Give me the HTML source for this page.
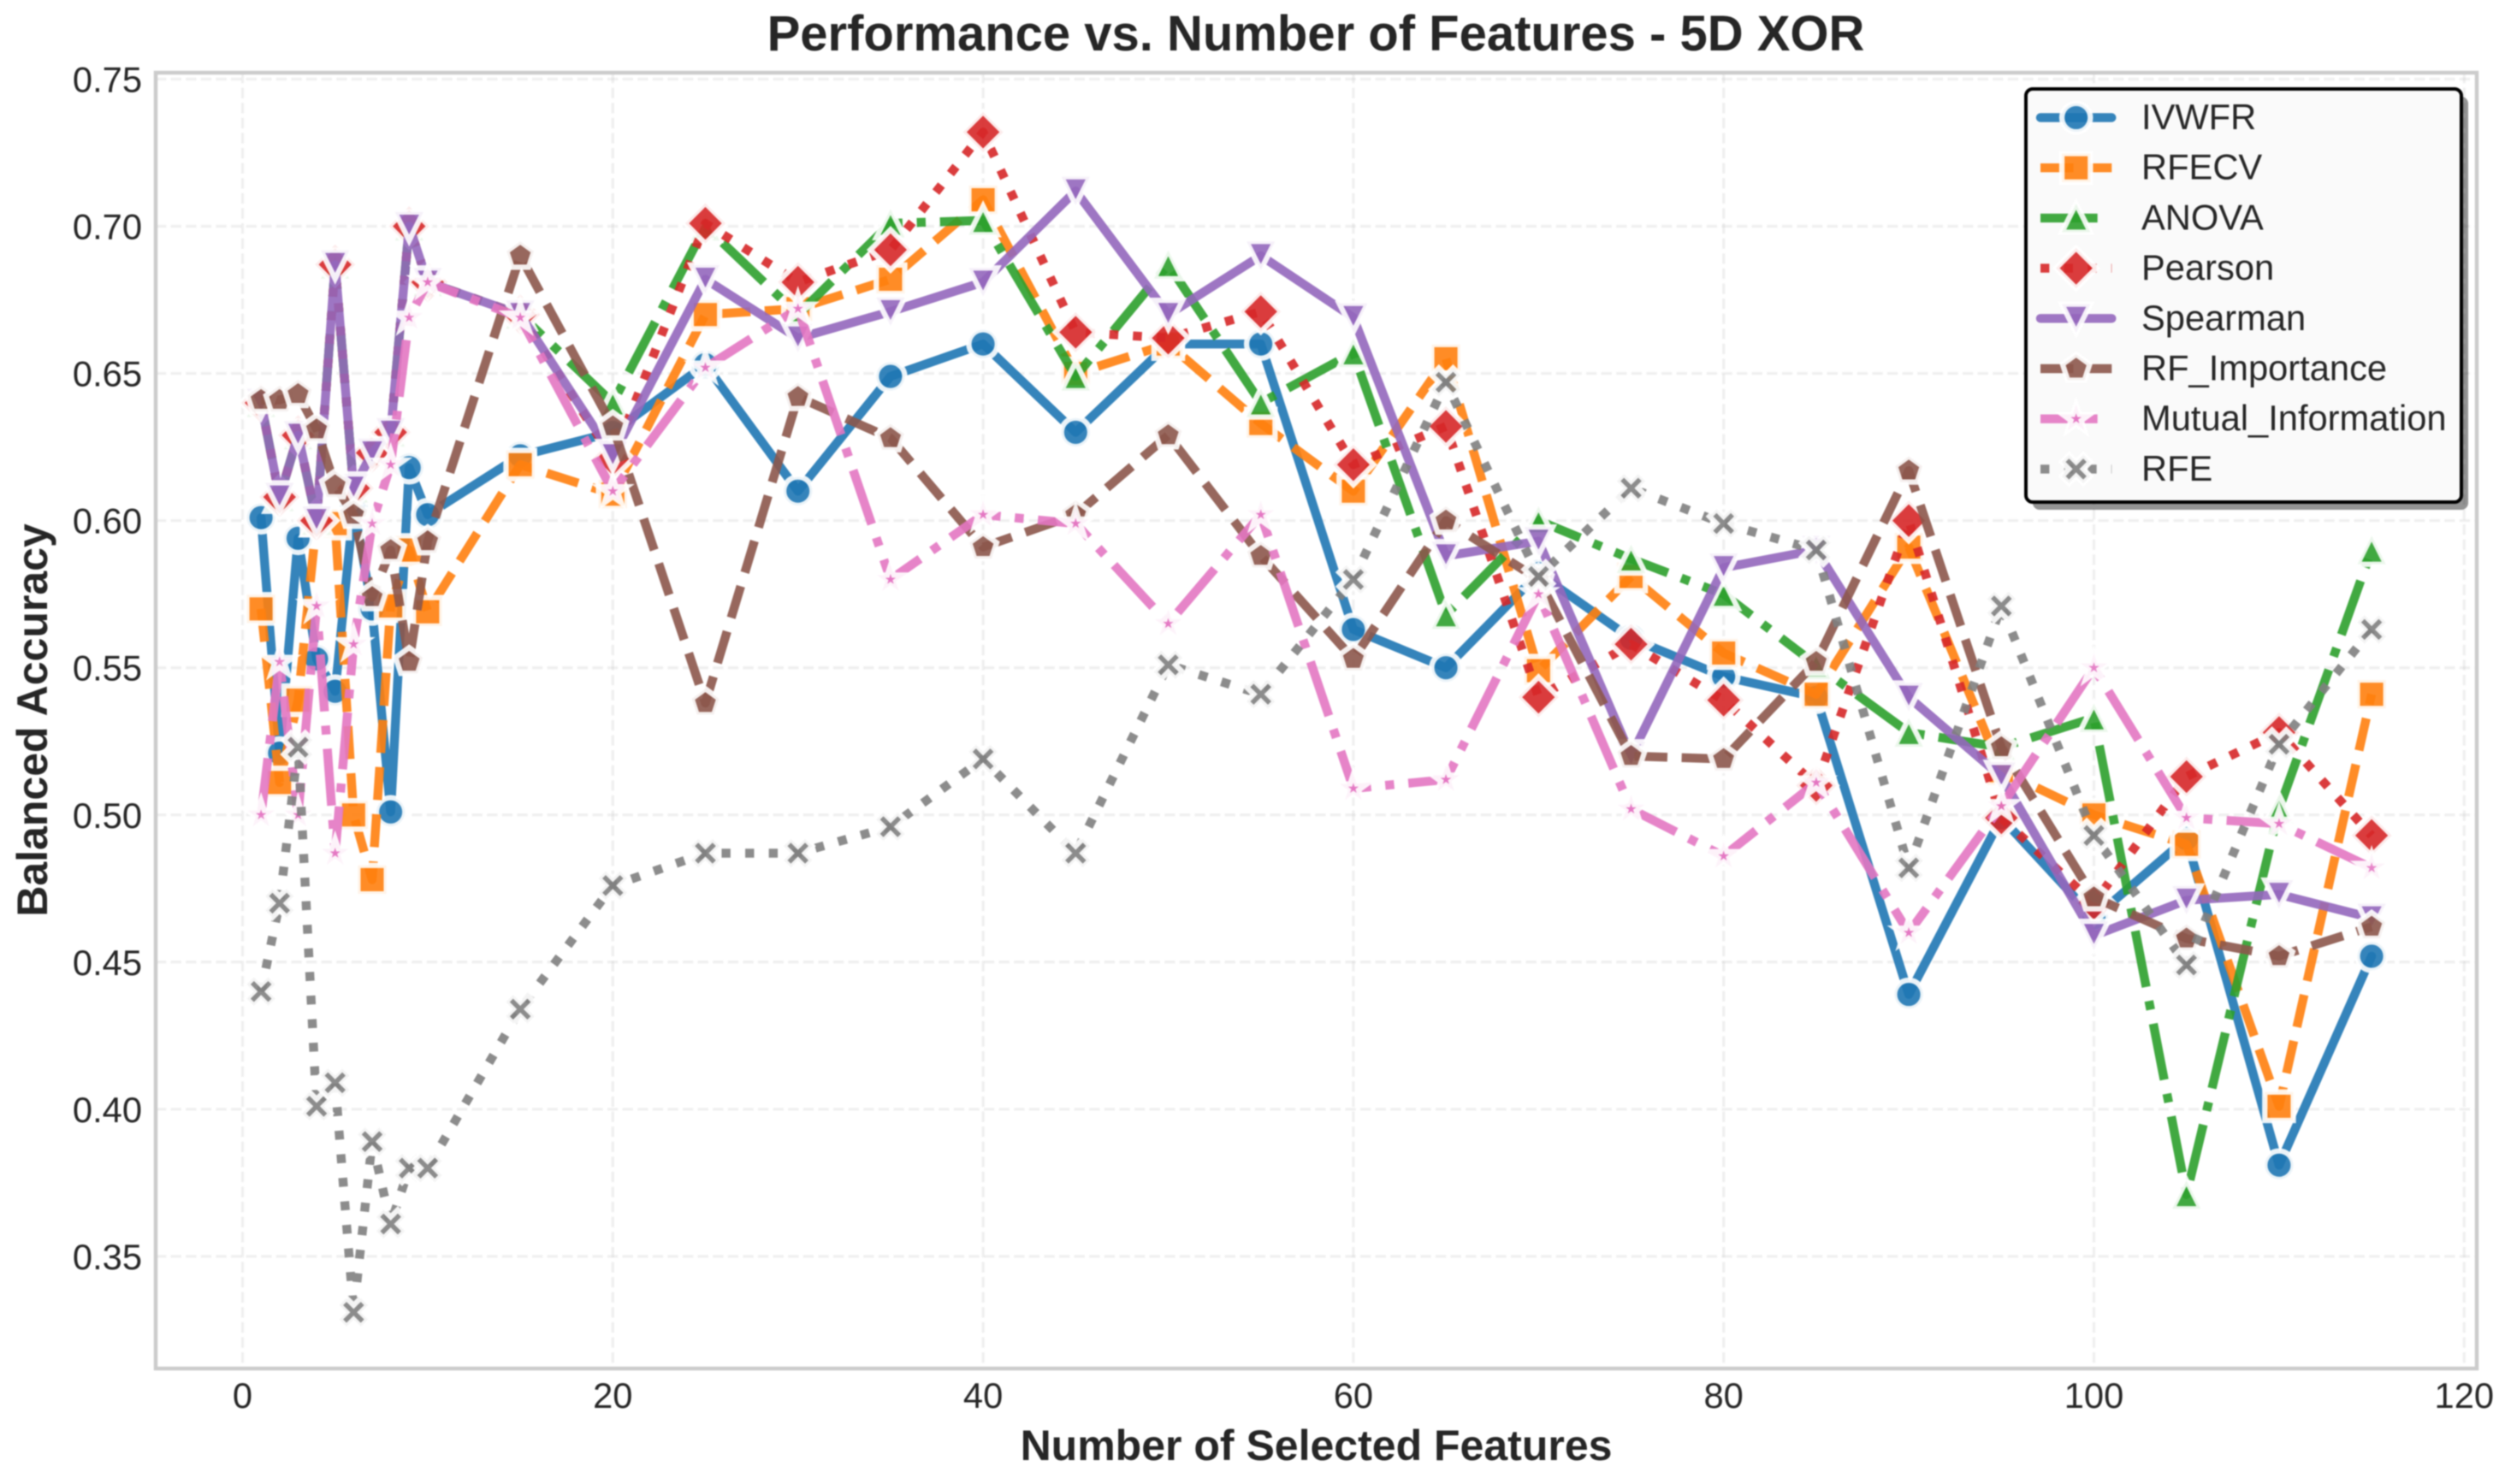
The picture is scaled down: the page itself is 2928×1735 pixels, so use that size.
<!DOCTYPE html>
<html lang="en">
<head>
<meta charset="utf-8">
<title>Performance vs. Number of Features - 5D XOR</title>
<style>
html,body{margin:0;padding:0;background:#fff;width:2928px;height:1735px;overflow:hidden}
svg{display:block;filter:blur(0.8px)}
text{font-family:"Liberation Sans",Arial,sans-serif;fill:#262626}
</style>
</head>
<body>
<svg id="chart" xmlns="http://www.w3.org/2000/svg" width="2928" height="1735" viewBox="0 0 2928 1735">
  <rect x="0" y="0" width="2928" height="1735" fill="#ffffff"/>
  <g id="grid"></g>
  <g id="series"></g>
  <g id="spines">
    <rect x="182" y="85" width="2713" height="1515" fill="none" stroke="#cccccc" stroke-width="4.5"/>
  </g>
  <g id="ticks"></g>
  <text x="1538" y="59" font-size="58" font-weight="700" text-anchor="middle">Performance vs. Number of Features - 5D XOR</text>
  <text x="1538.5" y="1707" font-size="50" font-weight="700" text-anchor="middle">Number of Selected Features</text>
  <text transform="translate(55 842) rotate(-90)" font-size="50" font-weight="700" text-anchor="middle">Balanced Accuracy</text>
  <g id="legend">
    <rect x="2376" y="113" width="509" height="483" rx="8" ry="8" fill="#000000" fill-opacity="0.42"/>
    <rect x="2368" y="104" width="509" height="483" rx="8" ry="8" fill="#fafafa" stroke="#000000" stroke-width="4"/>
  </g>
</svg>
<script>
const features = [1,2,3,4,5,6,7,8,9,10,15,20,25,30,35,40,45,50,55,60,65,70,75,80,85,90,95,100,105,110,115];
const ivwfr = [.601,.521,.594,.553,.542,.605,.570,.501,.618,.602,.622,.630,.653,.610,.649,.660,.630,.660,.660,.563,.550,.582,.560,.547,.540,.439,.499,.465,.492,.381,.452];
const rfecv = [.570,.511,.539,.600,.599,.500,.478,.571,.590,.569,.619,.609,.670,.672,.682,.709,.650,.660,.633,.610,.655,.549,.581,.555,.541,.591,.515,.500,.490,.401,.541];
const anova = [.640,.608,.629,.600,.687,.611,.623,.630,.700,.681,.670,.640,.700,.670,.701,.702,.649,.687,.640,.657,.568,.600,.587,.575,.551,.528,.523,.533,.371,.502,.590];
const pearson = [.640,.608,.629,.600,.687,.611,.623,.630,.700,.681,.670,.621,.701,.681,.692,.732,.664,.662,.671,.619,.632,.540,.558,.539,.510,.600,.499,.470,.513,.528,.493];
const spearman = [.640,.608,.629,.600,.687,.611,.623,.630,.700,.681,.670,.622,.682,.662,.671,.681,.712,.670,.690,.669,.588,.593,.520,.584,.590,.540,.513,.459,.471,.473,.465];
const rfImportance = [.641,.641,.643,.631,.612,.602,.574,.590,.552,.593,.690,.632,.538,.642,.628,.591,.602,.629,.588,.553,.600,.580,.520,.519,.552,.617,.523,.472,.458,.452,.462];
const mutualInformation = [.500,.552,.500,.571,.487,.558,.599,.619,.669,.681,.669,.610,.652,.672,.580,.602,.599,.565,.602,.509,.512,.575,.502,.486,.511,.460,.503,.550,.499,.497,.482];
const rfe = [.440,.470,.523,.401,.409,.331,.389,.361,.380,.380,.434,.476,.487,.487,.496,.519,.487,.551,.541,.580,.647,.581,.611,.599,.590,.482,.571,.493,.449,.524,.563];
const xTicks = [0,20,40,60,80,100,120];
const yTicks = [0.35,0.40,0.45,0.50,0.55,0.60,0.65,0.70,0.75];
const seriesNames = ["IVWFR","RFECV","ANOVA","Pearson","Spearman","RF_Importance","Mutual_Information","RFE"];

const NS = "http://www.w3.org/2000/svg";
const LW = 10.42, MS = 33.3, MEW = 6.25, ALPHA = 0.9;
const xScale = v => 283.5 + v * 21.64;
const yScale = v => 92.5 + (0.75 - v) * 3441;
const slug = s => s.toLowerCase().replace(/_/g, "-");

const dashPatterns = {
  solid: "",
  dashed: [3.7,1.6].map(d => d * LW).join(" "),
  dashdot: [6.4,1.6,1,1.6].map(d => d * LW).join(" "),
  dotted: [1,1.65].map(d => d * LW).join(" ")
};
function markerPath(kind, cx, cy) {
  const r = MS / 2;
  const poly = pts => "M" + pts.map(p => (cx + p[0]).toFixed(2) + " " + (cy + p[1]).toFixed(2)).join("L") + "Z";
  const regular = (n, rad) => Array.from({length:n}, (_, i) => {
    const a = -Math.PI / 2 + i * 2 * Math.PI / n;
    return [rad * Math.cos(a), rad * Math.sin(a)];
  });
  if (kind === "circle") return `M${cx - r} ${cy}a${r} ${r} 0 1 0 ${2 * r} 0a${r} ${r} 0 1 0 ${-2 * r} 0Z`;
  if (kind === "square") return poly([[-r,-r],[r,-r],[r,r],[-r,r]]);
  if (kind === "triangle-up") return poly([[0,-r],[r,r],[-r,r]]);
  if (kind === "triangle-down") return poly([[0,r],[r,-r],[-r,-r]]);
  if (kind === "diamond") { const d = r * Math.SQRT2; return poly([[0,-d],[d,0],[0,d],[-d,0]]); }
  if (kind === "pentagon") return poly(regular(5, r));
  if (kind === "star") {
    const pts = [];
    for (let i = 0; i < 10; i++) {
      const a = -Math.PI / 2 + i * Math.PI / 5, rr = i % 2 ? r * 0.381966 : r;
      pts.push([rr * Math.cos(a), rr * Math.sin(a)]);
    }
    return poly(pts);
  }
  const u = MS;
  return poly([[.25,0],[.5,.25],[.75,0],[1,.25],[.75,.5],[1,.75],[.75,1],[.5,.75],[.25,1],[0,.75],[.25,.5],[0,.25]].map(p => [(p[0] - .5) * u, (p[1] - .5) * u]));
}
const styles = [
  {color:"#1f77b4", dash:"solid", marker:"circle"},
  {color:"#ff7f0e", dash:"dashed", marker:"square"},
  {color:"#2ca02c", dash:"dashdot", marker:"triangle-up"},
  {color:"#d62728", dash:"dotted", marker:"diamond"},
  {color:"#9467bd", dash:"solid", marker:"triangle-down"},
  {color:"#8c564b", dash:"dashed", marker:"pentagon"},
  {color:"#e377c2", dash:"dashdot", marker:"star"},
  {color:"#7f7f7f", dash:"dotted", marker:"x"}
];
const seriesValues = [ivwfr, rfecv, anova, pearson, spearman, rfImportance, mutualInformation, rfe];

function make(tag, attrs, parent) {
  const el = document.createElementNS(NS, tag);
  for (const k in attrs) el.setAttribute(k, attrs[k]);
  parent.appendChild(el);
  return el;
}
function styleLine(el, st) {
  el.setAttribute("fill", "none");
  el.setAttribute("stroke", st.color);
  el.setAttribute("stroke-width", LW);
  el.setAttribute("stroke-opacity", ALPHA);
  el.setAttribute("stroke-linejoin", "round");
  el.setAttribute("stroke-linecap", st.dash === "solid" ? "round" : "butt");
  if (st.dash !== "solid") el.setAttribute("stroke-dasharray", dashPatterns[st.dash]);
}
function styleMarker(el, st) {
  el.setAttribute("fill", st.color);
  el.setAttribute("fill-opacity", ALPHA);
  el.setAttribute("stroke", "#ffffff");
  el.setAttribute("stroke-opacity", ALPHA);
  el.setAttribute("stroke-width", MEW);
  el.setAttribute("stroke-linejoin", st.marker === "circle" ? "round" : "miter");
  el.setAttribute("stroke-miterlimit", "10");
}

const gridG = document.getElementById("grid");
const tickG = document.getElementById("ticks");
xTicks.forEach(t => {
  const l = make("line", {x1:xScale(t), x2:xScale(t), y1:85, y2:1600, stroke:"#cccccc", "stroke-opacity":0.3, "stroke-width":3.3, "stroke-dasharray":"12.3 5.3"}, gridG);
  
  
  const tx = make("text", {x:xScale(t), y:1646, "font-size":41.67, "text-anchor":"middle"}, tickG);
  tx.textContent = String(t);
  
  
});
yTicks.forEach(t => {
  const l = make("line", {x1:182, x2:2895, y1:yScale(t), y2:yScale(t), stroke:"#cccccc", "stroke-opacity":0.3, "stroke-width":3.3, "stroke-dasharray":"12.3 5.3"}, gridG);
  
  
  const tx = make("text", {x:166, y:yScale(t) + 15, "font-size":41.67, "text-anchor":"end"}, tickG);
  tx.textContent = t.toFixed(2);
  
  
});

const seriesG = document.getElementById("series");
seriesValues.forEach((vals, i) => {
  const st = styles[i];
  const g = make("g", {}, seriesG);
  
  
  const line = make("polyline", {points: vals.map((v, j) => xScale(features[j]).toFixed(2) + "," + yScale(v).toFixed(2)).join(" ")}, g);
  styleLine(line, st);
  
  
  vals.forEach((v, j) => {
    const m = make("path", {d: markerPath(st.marker, xScale(features[j]), yScale(v))}, g);
    styleMarker(m, st);
    
    
  });
});

const legendG = document.getElementById("legend");
seriesNames.forEach((name, i) => {
  const st = styles[i];
  const rowY = 137.5 + i * 58.7;
  const g = make("g", {}, legendG);
  
  
  const l = make("line", {x1:2385, x2:2468.3, y1:rowY, y2:rowY}, g);
  styleLine(l, st);
  
  
  const m = make("path", {d: markerPath(st.marker, 2426.7, rowY)}, g);
  styleMarker(m, st);
  
  
  const t = make("text", {x:2503, y:rowY + 13.5, "font-size":41.67}, g);
  t.textContent = name;
  
  
});
</script>
</body>
</html>
